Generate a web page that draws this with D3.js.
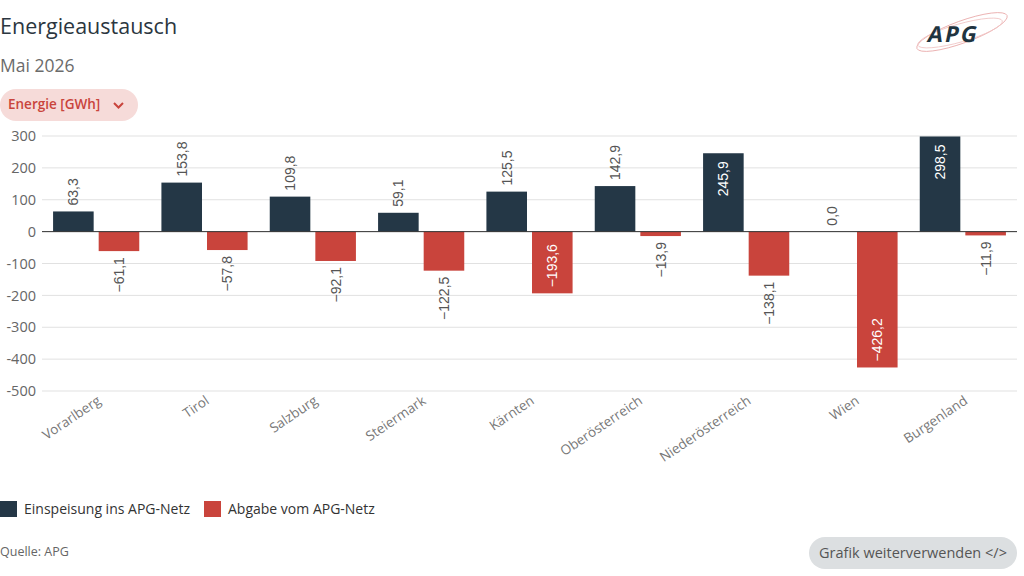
<!DOCTYPE html>
<html><head><meta charset="utf-8">
<script src="https://cdn.jsdelivr.net/npm/d3@7"></script>
<style>
html,body{margin:0;padding:0;background:#fff;}
svg{display:block;font-family:"Open Sans","Noto Sans",sans-serif;}
</style></head>
<body>
<svg id="c" width="1024" height="576"></svg>
<script>
const categories = ["Vorarlberg","Tirol","Salzburg","Steiermark","Kärnten","Oberösterreich","Niederösterreich","Wien","Burgenland"];
const einspeisung = [63.3,153.8,109.8,59.1,125.5,142.9,245.9,0.0,298.5];
const abgabe = [-61.1,-57.8,-92.1,-122.5,-193.6,-13.9,-138.1,-426.2,-11.9];
const seriesNames = ["Einspeisung ins APG-Netz","Abgabe vom APG-Netz"];
const yTicks = [300,200,100,0,-100,-200,-300,-400,-500];

const colors = ["#243746","#c9443c"];
const svg = d3.select("#c");

// Header
svg.append("text").attr("x",0).attr("y",34).attr("font-size",21.5).attr("font-weight",500)
  .attr("fill","#2b3640").text("Energieaustausch");
svg.append("text").attr("x",0).attr("y",72).attr("font-size",17.5).attr("fill","#6b6b6b").text("Mai 2026");
svg.append("rect").attr("x",0).attr("y",89).attr("width",138).attr("height",32).attr("rx",16).attr("fill","#f6dbd9");
svg.append("text").attr("x",8).attr("y",109).attr("font-size",13.5).attr("font-weight",600).attr("fill","#c9443c").text("Energie [GWh]");
svg.append("path").attr("d","M114,103 l4.5,4.5 l4.5,-4.5").attr("fill","none").attr("stroke","#c9443c").attr("stroke-width",2);

// Logo
const logo = svg.append("g");
logo.append("ellipse").attr("cx",962).attr("cy",32).attr("rx",48).attr("ry",11).attr("transform","rotate(-20 962 32)")
  .attr("fill","none").attr("stroke","#e8a8a8").attr("stroke-width",0.8);
logo.append("ellipse").attr("cx",960).attr("cy",33).attr("rx",44).attr("ry",9).attr("transform","rotate(-16 960 33)")
  .attr("fill","none").attr("stroke","#f0c4c4").attr("stroke-width",0.8);
logo.append("text").attr("x",928).attr("y",42).attr("font-size",22).attr("font-weight",700)
  .attr("transform","skewX(-12)").attr("transform-origin","964 35")
  .attr("fill","#1f3440").attr("letter-spacing",2).text("APG");

// Scales
const left = 42, right = 1017;
const x = d3.scaleBand().domain(categories).range([left,right]).padding(0);
const xs = d3.scaleBand().domain([0,1]).range([0,x.bandwidth()]).paddingInner(0.11).paddingOuter(0.243);
const y = d3.scaleLinear().domain([-500,300]).range([391,136]);

// grid
svg.append("g").selectAll("line").data(yTicks).join("line")
  .attr("x1",left).attr("x2",right).attr("y1",d=>y(d)).attr("y2",d=>y(d))
  .attr("stroke","#e1e1e1").attr("stroke-width",1);

// y axis labels
const yAxis = d3.axisLeft(y).tickValues(yTicks).tickSize(0).tickPadding(5).tickFormat(d=>String(d));
const gy = svg.append("g").attr("transform",`translate(${left-1},0)`).call(yAxis);
gy.select(".domain").remove();
gy.selectAll("text").attr("font-size",14.5).attr("fill","#666").attr("font-family","Open Sans, sans-serif");

// bars
const data = [];
categories.forEach((c,i)=>{
  data.push({c, s:0, v:einspeisung[i]});
  data.push({c, s:1, v:abgabe[i]});
});
svg.append("g").selectAll("rect").data(data).join("rect")
  .attr("x",d=>x(d.c)+xs(d.s)).attr("width",xs.bandwidth())
  .attr("y",d=>y(Math.max(0,d.v))).attr("height",d=>Math.abs(y(d.v)-y(0)))
  .attr("fill",d=>colors[d.s]);

// zero line
svg.append("line").attr("x1",left).attr("x2",right).attr("y1",y(0)).attr("y2",y(0)).attr("stroke","#333").attr("stroke-width",1);

// data labels
const fmt = v => (v<0?"−":"") + Math.abs(v).toFixed(1).replace(".",",");
const lab = svg.append("g");
data.forEach(d=>{
  const cx = x(d.c)+xs(d.s)+xs.bandwidth()/2;
  const inside = Math.abs(d.v) > 180;
  let yy, anchor;
  if (d.v >= 0) {
    if (inside) { yy = y(d.v)+8; anchor="end"; } else { yy = y(d.v)-6; anchor="start"; }
  } else {
    if (inside) { yy = y(d.v)-6; anchor="start"; } else { yy = y(d.v)+6; anchor="end"; }
  }
  lab.append("text").attr("transform",`translate(${cx},${yy}) rotate(-90)`)
    .attr("text-anchor",anchor).attr("dy","0.35em")
    .attr("font-family","Liberation Sans, Arial, sans-serif").attr("font-size",14)
    .attr("fill",inside?"#ffffff":"#555").text(fmt(d.v));
});

// x labels
const xAxis = d3.axisBottom(x).tickSize(0).tickPadding(0);
const gx = svg.append("g").attr("transform",`translate(0,398)`).call(xAxis);
gx.select(".domain").remove();
gx.selectAll("text").attr("font-size",13.5).attr("fill","#777").attr("font-family","Open Sans, sans-serif")
  .attr("text-anchor","end").attr("dy","0.35em").attr("transform","translate(3,1) rotate(-34)");

// legend
const lg = svg.append("g");
const legX = [0,204];
seriesNames.forEach((n,i)=>{
  lg.append("rect").attr("x",legX[i]).attr("y",501).attr("width",17).attr("height",16).attr("fill",colors[i]);
  lg.append("text").attr("x",legX[i]+24).attr("y",514).attr("font-size",14).attr("fill","#333").text(n);
});

svg.append("text").attr("x",0).attr("y",556).attr("font-size",12.5).attr("fill","#666").text("Quelle: APG");

svg.append("rect").attr("x",809).attr("y",537).attr("width",208).attr("height",32).attr("rx",16).attr("fill","#dcdfe1");
svg.append("text").attr("x",913).attr("y",558).attr("text-anchor","middle").attr("font-size",14.5).attr("fill","#555").text("Grafik weiterverwenden </>");
</script>
</body></html>
